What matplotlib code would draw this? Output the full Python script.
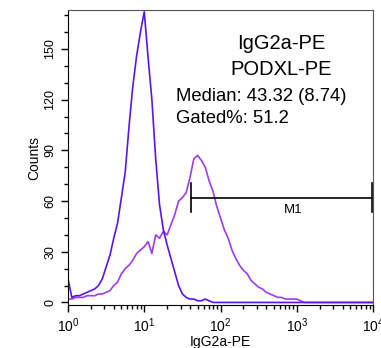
import numpy as np
import matplotlib
matplotlib.use("Agg")
import matplotlib.pyplot as plt
from matplotlib.ticker import LogLocator, MultipleLocator, NullFormatter

plt.rcParams['font.family'] = ['Liberation Sans', 'DejaVu Sans']
plt.rcParams['mathtext.fontset'] = 'custom'
plt.rcParams['mathtext.rm'] = 'Liberation Sans'
plt.rcParams['mathtext.it'] = 'Liberation Sans'

# channel positions (log10 of intensity), 20 channels per decade
log_channel = np.round(np.arange(0, 4.0001, 0.05), 2)

# isotype control (IgG2a-PE)
control_counts = [14, 3, 4, 4, 5, 6, 7, 8, 10, 14,
                  21, 28, 38, 47, 62, 77, 104, 128, 146, 160,
                  172, 145, 120, 85, 58, 43, 34, 26, 18, 10,
                  5, 3, 2, 2, 1, 1, 2, 1, 0, 0,
                  0, 0, 0, 0, 0, 0, 0, 0, 0, 0,
                  0, 0, 0, 0, 0, 0, 0, 0, 0, 0,
                  0, 0, 0, 0, 0, 0, 0, 0, 0, 0,
                  0, 0, 0, 0, 0, 0, 0, 0, 0, 0, 0]

# sample (PODXL-PE)
sample_counts = [2, 2, 3, 3, 3, 4, 4, 4, 5, 5,
                 6, 7, 10, 12, 17, 20, 22, 25, 29, 31,
                 33, 36, 29, 40, 38, 42, 40, 46, 52, 60,
                 62, 65, 74, 85, 87, 84, 80, 72, 66, 57,
                 50, 43, 38, 31, 26, 22, 19, 17, 13, 11,
                 9, 8, 6, 5, 4, 3, 3, 2, 2, 2,
                 2, 1, 0, 0, 0, 0, 0, 0, 0, 0,
                 0, 0, 0, 0, 0, 0, 0, 0, 0, 0, 0]

gate_start = 41
gate_end = 9700
gate_level = 62

fig = plt.figure(figsize=(3.81, 3.48), dpi=100)
ax = fig.add_axes([0.1785, 0.1236, 0.8005, 0.8474])

x = 10 ** log_channel
ax.plot(x, sample_counts, color='#9b3cf0', lw=1.2)
ax.plot(x, control_counts, color='#5a14f0', lw=1.2)

ax.set_xscale('log')
ax.set_xlim(1, 10000)
ax.set_ylim(-1.5, 173)

ax.xaxis.set_minor_locator(LogLocator(base=10, subs=np.arange(2, 10), numticks=10))
ax.xaxis.set_minor_formatter(NullFormatter())
ax.set_xticks([1, 10, 100, 1000, 10000])
ax.set_xticklabels([r'$10^{%d}$' % k for k in range(5)], fontsize=10)
ax.yaxis.set_major_locator(MultipleLocator(30))
ax.yaxis.set_minor_locator(MultipleLocator(10))
ax.tick_params(axis='both', which='major', direction='out', length=5, width=1)
ax.tick_params(axis='y', labelsize=9)
ax.tick_params(axis='both', which='minor', direction='out', length=3, width=1)
ax.tick_params(axis='y', labelrotation=90)
for lab in ax.get_yticklabels():
    lab.set_va('center')

ax.set_xlabel('IgG2a-PE', fontsize=10, labelpad=0)
ax.set_ylabel('Counts', fontsize=10, labelpad=2)

for s in ['top', 'right']:
    ax.spines[s].set_color('#555555')

# M1 marker
ax.plot([gate_start, gate_end], [gate_level, gate_level], color='black', lw=1.2)
ax.plot([gate_start, gate_start], [gate_level - 8.5, gate_level + 8.5], color='black', lw=1.2)
ax.plot([gate_end, gate_end], [gate_level - 8.5, gate_level + 8.5], color='black', lw=1.2)
ax.text(10 ** 2.95, gate_level - 4, 'M1', ha='center', va='top', fontsize=9.5)

ax.text(0.70, 0.888, 'IgG2a-PE', transform=ax.transAxes, ha='center', va='center', fontsize=14.5)
ax.text(0.70, 0.797, 'PODXL-PE', transform=ax.transAxes, ha='center', va='center', fontsize=14.5)
ax.text(0.354, 0.708, 'Median: 43.32 (8.74)', transform=ax.transAxes, ha='left', va='center', fontsize=13.3)
ax.text(0.354, 0.634, 'Gated%: 51.2', transform=ax.transAxes, ha='left', va='center', fontsize=13.3)

fig.savefig('out.png', dpi=100)
